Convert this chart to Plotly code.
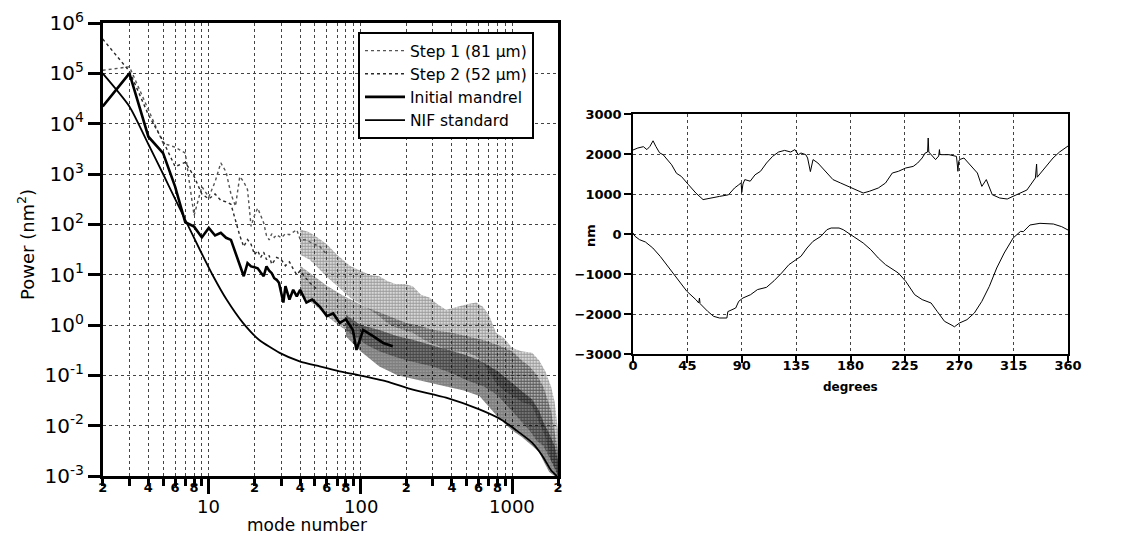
import math
import plotly.graph_objects as go

# ---------------- Left panel data (power spectra) ----------------
step1_modes = [2, 3, 4, 5, 6, 7, 8, 9, 10, 11, 12, 13, 14, 15, 16, 17, 18, 19, 20, 21, 22, 23, 24,
               25, 26, 27, 28, 30, 32, 34, 36, 38, 40, 44, 48, 54, 60]
step1_power = [1.15e5, 1.35e5, 1.9e4, 4.1e3, 3.4e3, 2.6e3, 1.5e2, 5.6e2, 3.5e2, 7.0e2, 1.66e3, 1.1e3,
               4.0e2, 2.3e2, 8.9e2, 7.0e2, 4.9e2, 9.1e1, 1.5e2, 2.1e2, 1.5e2, 1.07e2, 6.0e1,
               4.9e1, 6.5e1, 5.5e1, 6.2e1, 5.4e1, 6.5e1, 6.2e1, 7.0e1, 7.8e1, 5.0e1, 4.9e1, 4.2e1, 3.6e1, 2.5e1]

step1_band_modes = [40, 46, 52, 60, 70, 85, 100, 115, 133, 150, 170, 195, 221, 250, 284, 320, 366, 410,
                    450, 510, 578, 640, 700, 782, 880, 1000, 1150, 1350, 1500, 1650, 1800, 1900, 2000]
step1_band_upper = [80, 70, 55, 40, 25, 15, 12, 10, 9.3, 7.5, 6.5, 6.5, 5.9, 4.0, 3.5, 2.6, 2.0, 2.2,
                    2.3, 2.6, 2.8, 2.3, 1.6, 0.7, 0.55, 0.35, 0.3, 0.28, 0.2, 0.12, 0.06, 0.03, 0.008]
step1_band_lower = [25, 20, 14, 9, 6, 3.5, 2.6, 2.0, 1.5, 1.1, 0.9, 0.8, 0.7, 0.55, 0.45, 0.4, 0.32, 0.3,
                    0.3, 0.28, 0.24, 0.18, 0.12, 0.07, 0.05, 0.04, 0.03, 0.025, 0.012, 0.006, 0.002, 0.0015, 0.001]

step2_modes = [2, 3, 4, 5, 6, 7, 8, 9, 10, 11, 12, 13, 14, 15, 16, 17, 18, 19, 20, 21, 22, 23, 24,
               25, 26, 28, 30, 32, 34, 36, 38, 40, 46, 52]
step2_power = [4.8e5, 1.1e5, 1.5e4, 4.5e3, 1.4e3, 1.7e3, 9.0e2, 4.0e2, 3.2e2, 4.0e2, 3.0e2, 2.8e2,
               2.5e2, 1.2e2, 6.0e1, 3.6e1, 5.0e1, 4.0e1, 2.5e1, 3.0e1, 2.2e1, 2.8e1, 2.0e1,
               2.4e1, 1.6e1, 2.2e1, 2.0e1, 1.5e1, 1.8e1, 1.3e1, 1.0e1, 1.2e1, 7.0, 5.0]

step2_band_modes = [40, 50, 60, 75, 90, 110, 133, 165, 200, 250, 300, 400, 500, 650, 800, 1000, 1150,
                    1300, 1450, 1600, 1800, 2000]
step2_band_upper = [15, 9, 6, 4, 3, 2.2, 1.8, 1.4, 1.1, 0.95, 0.8, 0.7, 0.6, 0.5, 0.4, 0.3, 0.2,
                    0.15, 0.1, 0.06, 0.02, 0.003]
step2_band_lower = [4, 2.5, 1.5, 0.9, 0.6, 0.4, 0.3, 0.24, 0.2, 0.17, 0.15, 0.11, 0.08, 0.06, 0.04,
                    0.02, 0.012, 0.008, 0.005, 0.004, 0.002, 0.001]

mandrel_modes = [2, 3, 4, 5, 6, 7, 8, 9, 10, 11, 12, 13, 14, 15, 16, 17, 18, 19, 20, 21, 22, 23, 24,
                 25, 26, 27, 28, 29, 31, 32, 34, 36, 38, 40, 44, 48, 54, 60, 66, 73, 80, 89, 94, 104,
                 121, 141, 163]
mandrel_power = [2.2e4, 1.0e5, 5.5e3, 2.6e3, 5.6e2, 1.1e2, 9.0e1, 5.5e1, 8.5e1, 6.0e1, 6.8e1, 5.4e1,
                 4.9e1, 2.7e1, 1.46e1, 9.3, 1.7e1, 1.46e1, 1.4e1, 1.34e1, 1.1e1, 9.3, 1.46e1,
                 1.2e1, 1.07e1, 8.5, 7.9, 6.9, 2.8, 5.9, 3.2, 5.0, 3.7, 5.0, 2.8, 3.2, 2.3, 1.5,
                 1.7, 1.1, 1.3, 0.8, 0.32, 0.8, 0.6, 0.44, 0.38]

mandrel_band_modes = [80, 100, 133, 175, 221, 290, 366, 480, 607, 800, 1000, 1150, 1350, 1500, 1600,
                      1750, 1900, 2000]
mandrel_band_upper = [1.6, 1.0, 0.8, 0.6, 0.51, 0.4, 0.32, 0.26, 0.2, 0.12, 0.07, 0.05, 0.033, 0.02,
                      0.012, 0.007, 0.004, 0.002]
mandrel_band_lower = [0.6, 0.3, 0.15, 0.1, 0.083, 0.07, 0.06, 0.05, 0.039, 0.015, 0.008, 0.006, 0.004,
                      0.003, 0.002, 0.0012, 0.001, 0.001]

nif_modes = [2, 3, 4, 5, 6, 7, 8.7, 10.7, 13.1, 16.8, 21.4, 29.3, 39.7, 53.8, 72.8, 98.5, 148, 221,
             366, 607, 852, 1050, 1350, 1580, 1800, 1960, 2000]
nif_power = [1.0e5, 2.2e4, 3.9e3, 1.0e3, 3.2e2, 1.23e2, 3.2e1, 9.3, 3.2, 1.1, 0.51, 0.28, 0.19, 0.15,
             0.12, 0.10, 0.076, 0.052, 0.036, 0.021, 0.013, 0.0083, 0.0046, 0.0025, 0.0013, 0.0010, 0.0009]

x_tickvals = [2, 3, 4, 5, 6, 7, 8, 9, 20, 30, 40, 50, 60, 70, 80, 90,
              200, 300, 400, 500, 600, 700, 800, 900, 2000]
x_ticktext = ["2", "", "4", "", "6", "", "8", "", "2", "", "4", "", "6", "", "8", "",
              "2", "", "4", "", "6", "", "8", "", "2"]
x_major_vals = [10, 100, 1000]
x_major_text = ["10", "100", "1000"]
y_tickvals = [1e-3, 1e-2, 1e-1, 1e0, 1e1, 1e2, 1e3, 1e4, 1e5, 1e6]
y_ticktext = ["10<sup>-3</sup>", "10<sup>-2</sup>", "10<sup>-1</sup>", "10<sup>0</sup>",
              "10<sup>1</sup>", "10<sup>2</sup>", "10<sup>3</sup>", "10<sup>4</sup>",
              "10<sup>5</sup>", "10<sup>6</sup>"]

# ---------------- Right panel data (profiles) ----------------
upper_deg = [0, 4, 8.6, 11.5, 14, 16.6, 18.9, 22, 25, 32, 36, 40, 46, 52, 58, 64, 71.6, 79, 84, 87.5,
             89.5, 90, 91, 92.5, 97, 101, 103, 105.5, 110.5, 115.5, 120.5, 125.5, 130.5, 134, 136.8,
             139, 143, 144.5, 146.8, 149, 153, 159, 165.5, 171.8, 178, 184, 190.5, 195.5, 203, 209,
             214.6, 219.6, 225.7, 231.9, 235.6, 239.3, 241.8, 243.8, 244.3, 244.8, 245.5, 250.4, 253,
             253.6, 254, 255.4, 261.5, 267.7, 268.5, 268.9, 269.5, 270.2, 273.9, 280, 285, 288.7,
             292.4, 297.3, 303.5, 309.7, 314.6, 320.8, 326, 333, 334, 334.5, 339.5, 347.6, 353, 360]
upper_nm = [2100, 2150, 2183, 2110, 2190, 2330, 2190, 2030, 1980, 1730, 1517, 1440, 1230, 1025, 860,
            900, 940, 980, 1150, 1230, 1280, 1040, 1250, 1360, 1320, 1480, 1525, 1567, 1775, 1940,
            2050, 2090, 2050, 2110, 1983, 2025, 1983, 1900, 1560, 1860, 1775, 1567, 1360, 1275, 1190,
            1110, 1025, 1067, 1150, 1275, 1525, 1567, 1650, 1690, 1775, 1900, 2025, 2050, 2400, 2050,
            2025, 1860, 1950, 2110, 1990, 1983, 1983, 1940, 1700, 1567, 1800, 1860, 1900, 1690, 1525,
            1190, 1360, 983, 900, 875, 940, 1025, 1100, 1400, 1750, 1420, 1600, 1900, 2050, 2200]

lower_deg = [0, 1.7, 5.4, 10.3, 16.4, 22.5, 29.9, 37.3, 44.6, 52, 54.4, 55, 55.5, 61.8, 66.7, 71.6,
             77.7, 78.5, 85, 87.5, 91, 97.3, 103, 110.5, 116.8, 123, 129, 135, 139, 144, 149, 155.5,
             160.5, 164, 170.5, 174, 178, 184, 190.5, 196.8, 203, 209, 214, 219.6, 225.7, 233.1,
             239.3, 246.7, 251.7, 257.8, 264, 266, 270.2, 276.4, 282.5, 288.7, 294.9, 301, 307.2,
             314.6, 320.8, 323, 328.5, 336.8, 347.9, 354.8, 360]
lower_nm = [25, -58, -142, -200, -350, -558, -850, -1142, -1433, -1640, -1725, -1600, -1740, -1933,
            -2058, -2100, -2100, -1940, -1850, -1683, -1600, -1517, -1390, -1333, -1167, -975, -767,
            -640, -558, -350, -183, -58, 108, 150, 150, 108, 25, -100, -225, -392, -600, -767, -875,
            -975, -1183, -1517, -1640, -1725, -1933, -2183, -2283, -2320, -2225, -2142, -1975, -1683,
            -1308, -850, -475, -100, 67, 58, 225, 267, 250, 183, 100]

deg_ticks = [0, 45, 90, 135, 180, 225, 270, 315, 360]
nm_ticks = [-3000, -2000, -1000, 0, 1000, 2000, 3000]

FONT = "DejaVu Sans, Liberation Sans, Arial, sans-serif"
W, H = 1144, 536
OFF = 8  # page body margin offset


def pxx(x):
    return (x - OFF) / W


def pxy(y):
    return 1 - (y - OFF) / H


def band(modes, up, lo):
    return list(modes) + list(modes)[::-1], list(up) + list(lo)[::-1]


fig = go.Figure()

# bands (dense high-mode spectra, drawn as halftone fills)
for mds, up, lo, fg, sol in [
    (step1_band_modes, step1_band_upper, step1_band_lower, "#3a3a3a", 0.7),
    (step2_band_modes, step2_band_upper, step2_band_lower, "#1a1a1a", 0.75),
    (mandrel_band_modes, mandrel_band_upper, mandrel_band_lower, "#000000", 0.85),
]:
    bx, by = band(mds, up, lo)
    fig.add_trace(go.Scatter(x=bx, y=by, mode="lines", fill="toself", line=dict(width=0),
                             fillcolor="rgba(0,0,0,0)",
                             fillpattern=dict(shape=".", fgcolor=fg, bgcolor="rgba(255,255,255,0)",
                                              size=3, solidity=sol),
                             showlegend=False, hoverinfo="skip", xaxis="x", yaxis="y"))

fig.add_trace(go.Scatter(x=step1_modes, y=step1_power, mode="lines", name="Step 1 (81 µm)",
                         line=dict(color="#555555", width=1.4, dash="dot"), xaxis="x", yaxis="y"))
fig.add_trace(go.Scatter(x=step2_modes, y=step2_power, mode="lines", name="Step 2 (52 µm)",
                         line=dict(color="#2a2a2a", width=1.4, dash="dot"), xaxis="x", yaxis="y"))
fig.add_trace(go.Scatter(x=mandrel_modes, y=mandrel_power, mode="lines", name="Initial mandrel",
                         line=dict(color="#000000", width=2.6), xaxis="x", yaxis="y"))
fig.add_trace(go.Scatter(x=nif_modes, y=nif_power, mode="lines", name="NIF standard",
                         line=dict(color="#000000", width=1.8, shape="spline", smoothing=0.6),
                         xaxis="x", yaxis="y"))

# right panel
fig.add_trace(go.Scatter(x=upper_deg, y=upper_nm, mode="lines", line=dict(color="#000", width=1),
                         showlegend=False, xaxis="x2", yaxis="y2"))
fig.add_trace(go.Scatter(x=lower_deg, y=lower_nm, mode="lines", line=dict(color="#000", width=1),
                         showlegend=False, xaxis="x2", yaxis="y2"))

grid = dict(showgrid=True, gridcolor="#444", gridwidth=1, griddash="dot", automargin=False)

fig.update_layout(
    width=W, height=H, autosize=False, paper_bgcolor="white", plot_bgcolor="white",
    margin=dict(l=0, r=0, t=0, b=0, pad=0, autoexpand=False),
    font=dict(family=FONT, color="black"),
    xaxis=dict(type="log", domain=[pxx(102.7), pxx(558)], range=[0.30103, 3.30103],
               tickmode="array", tickvals=x_tickvals, ticktext=x_ticktext,
               ticks="outside", ticklen=7, tickwidth=2.5, tickcolor="black",
               tickfont=dict(size=13, family=FONT, weight="bold"), ticklabelstandoff=-9,
               showline=True, linewidth=2.5, linecolor="black", mirror=True,
               minor=dict(tickmode="array", tickvals=x_major_vals, ticklen=15, tickwidth=2.5,
                          tickcolor="black", ticks="outside", showgrid=True, gridcolor="#444",
                          griddash="dot", gridwidth=1),
               zeroline=False, anchor="y", **grid),
    yaxis=dict(type="log", domain=[pxy(476), pxy(23)], range=[-3, 6],
               tickmode="array", tickvals=y_tickvals, ticktext=y_ticktext,
               ticks="outside", ticklen=12, tickwidth=2.5, tickcolor="black",
               tickfont=dict(size=20, family=FONT),
               showline=True, linewidth=2.5, linecolor="black", mirror=True,
               zeroline=False, anchor="x", **grid),
    xaxis2=dict(domain=[pxx(633), pxx(1068)], range=[0, 360], tickmode="array", tickvals=deg_ticks,
                ticks="outside", ticklen=7, tickwidth=1.5, tickcolor="black",
                tickfont=dict(size=13, family=FONT, weight="bold"), ticklabelstandoff=-8,
                showline=True, linewidth=1.5, linecolor="black", mirror=True,
                zeroline=False, anchor="y2", **grid),
    yaxis2=dict(domain=[pxy(354), pxy(114)], range=[-3000, 3000], tickmode="array",
                tickvals=nm_ticks, ticks="outside", ticklen=7, tickwidth=1.5, tickcolor="black",
                tickfont=dict(size=13, family=FONT, weight="bold"),
                showline=True, linewidth=1.5, linecolor="black", mirror=True,
                zeroline=False, anchor="x2", **grid),
    legend=dict(x=pxx(358), y=pxy(32), xanchor="left", yanchor="top",
                bordercolor="black", borderwidth=2, bgcolor="white",
                font=dict(size=15.5, family=FONT), tracegroupgap=0, itemwidth=40),
)

annotations = []
for v, t in zip(x_major_vals, x_major_text):
    annotations.append(dict(x=math.log10(v), y=pxy(506), xref="x", yref="paper", text=t,
                            showarrow=False, font=dict(size=18, family=FONT),
                            xanchor="center", yanchor="middle"))
annotations += [
    dict(x=pxx(307), y=pxy(525), xref="paper", yref="paper", text="mode number", showarrow=False,
         font=dict(size=17, family=FONT), xanchor="center", yanchor="middle"),
    dict(x=pxx(26), y=pxy(245), xref="paper", yref="paper", text="Power (nm<sup>2</sup>)",
         showarrow=False, textangle=-90, font=dict(size=18, family=FONT),
         xanchor="center", yanchor="middle"),
    dict(x=pxx(850), y=pxy(387), xref="paper", yref="paper", text="degrees", showarrow=False,
         font=dict(size=12, family=FONT, weight="bold"), xanchor="center", yanchor="middle"),
    dict(x=pxx(590), y=pxy(236), xref="paper", yref="paper", text="nm", showarrow=False,
         textangle=-90, font=dict(size=13, family=FONT, weight="bold"),
         xanchor="center", yanchor="middle"),
]
fig.update_layout(annotations=annotations)

fig.write_html("out.html")
